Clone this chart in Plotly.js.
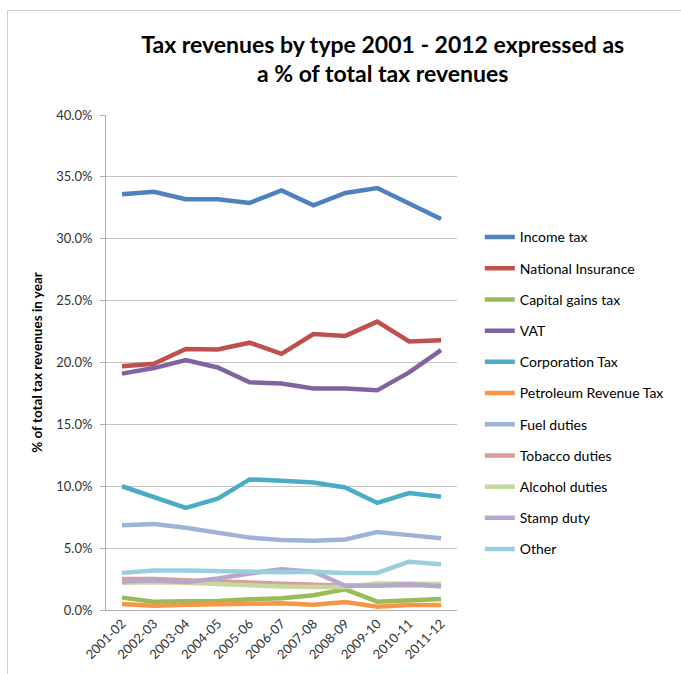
<!DOCTYPE html>
<html>
<head>
<meta charset="utf-8">
<script src="https://cdn.plot.ly/plotly-3.0.1.min.js"></script>
<style>
html,body{margin:0;padding:0;background:#fff;}
#chart{width:681px;height:674px;position:relative;}
#frame{position:absolute;left:7px;top:10px;width:700px;height:700px;border-left:1px solid #cfcfcf;border-top:1px solid #cfcfcf;pointer-events:none;}
</style>
</head>
<body>
<div style="position:relative;width:681px;height:674px;overflow:hidden;">
<div id="chart"></div>
<div id="frame"></div>
</div>
<script>
const years = ["2001-02","2002-03","2003-04","2004-05","2005-06","2006-07","2007-08","2008-09","2009-10","2010-11","2011-12"];
const seriesNames = ["Income tax","National Insurance","Capital gains tax","VAT","Corporation Tax","Petroleum Revenue Tax","Fuel duties","Tobacco duties","Alcohol duties","Stamp duty","Other"];
const incomeTax        = [33.6,33.8,33.2,33.2,32.9,33.9,32.7,33.7,34.1,32.8,31.6];
const nationalInsurance= [19.7,19.9,21.1,21.05,21.6,20.7,22.3,22.15,23.3,21.7,21.8];
const capitalGains     = [1.0,0.67,0.7,0.72,0.86,0.95,1.2,1.67,0.67,0.8,0.88];
const vat              = [19.1,19.55,20.2,19.6,18.4,18.3,17.9,17.9,17.75,19.2,21.0];
const corporationTax   = [10.0,9.1,8.25,9.0,10.55,10.45,10.3,9.9,8.65,9.45,9.15];
const petroleumTax     = [0.48,0.35,0.43,0.43,0.51,0.54,0.43,0.65,0.27,0.4,0.4];
const fuelDuties       = [6.85,6.95,6.65,6.25,5.85,5.65,5.6,5.7,6.3,6.05,5.8];
const tobaccoDuties    = [2.5,2.5,2.4,2.3,2.2,2.1,2.0,1.95,2.0,2.0,2.0];
const alcoholDuties    = [2.2,2.25,2.2,2.1,1.95,1.9,1.85,1.85,2.15,2.15,2.1];
const stampDuty        = [2.3,2.4,2.25,2.55,2.95,3.3,3.1,1.95,1.95,2.1,1.9];
const other            = [3.0,3.2,3.2,3.15,3.05,3.05,3.1,3.0,3.0,3.9,3.7];
const yTicks = [0,5,10,15,20,25,30,35,40];
const yTickLabels = ["0.0%","5.0%","10.0%","15.0%","20.0%","25.0%","30.0%","35.0%","40.0%"];

const allValues = [incomeTax,nationalInsurance,capitalGains,vat,corporationTax,petroleumTax,fuelDuties,tobaccoDuties,alcoholDuties,stampDuty,other];
const colors = ["#4F81BD","#C0504D","#9BBB59","#8064A2","#4BACC6","#F79646","#9FB3D8","#DB9C9A","#C4D8A0","#B7A7CB","#98CFDE"];

const traces = allValues.map((vals,i)=>({
  type:"scatter", mode:"lines", x:years, y:vals, name:seriesNames[i],
  legendgroup:"g"+i,
  line:{color:colors[i], width:4.5, shape:"linear"},
  hoverinfo:"x+y+name"
}));

const font = "Lato, 'Open Sans', sans-serif";
const layout = {
  width:681, height:674,
  paper_bgcolor:"rgba(0,0,0,0)", plot_bgcolor:"#fff",
  margin:{l:106, r:219, t:115, b:64},
  font:{family:font, size:12, color:"#333"},
  title:{text:"Tax revenues by type 2001 - 2012 expressed as<br>a % of total tax revenues",
         font:{family:font, size:23, color:"#000", weight:"bold"},
         x:0.562, xanchor:"center", xref:"container", y:0.922, yanchor:"top"},
  xaxis:{type:"category", tickangle:-45, showgrid:false, showline:true, linecolor:"#b0b0b0", linewidth:1,
         ticks:"", tickfont:{size:13, color:"#333"}, range:[-0.5,10.5], zeroline:false},
  yaxis:{range:[0,40], tickvals:yTicks, ticktext:yTickLabels, showgrid:true, gridcolor:"#c4c4c4", gridwidth:1,
         showline:true, linecolor:"#b0b0b0", linewidth:1, ticks:"outside", ticklen:5, tickcolor:"#b0b0b0",
         ticklabelstandoff:5,
         tickfont:{size:13, color:"#333"}, zeroline:false,
         title:{text:"% of total tax revenues in year", font:{size:13.5, color:"#000", weight:"bold"}, standoff:10}},
  legend:{x:1.065, xanchor:"left", y:0.785, yanchor:"top", tracegroupgap:10, itemwidth:30,
          font:{size:14, color:"#000"}, bgcolor:"rgba(0,0,0,0)"},
  showlegend:true
};
Plotly.newPlot("chart", traces, layout, {displayModeBar:false, staticPlot:true});
</script>
</body>
</html>
